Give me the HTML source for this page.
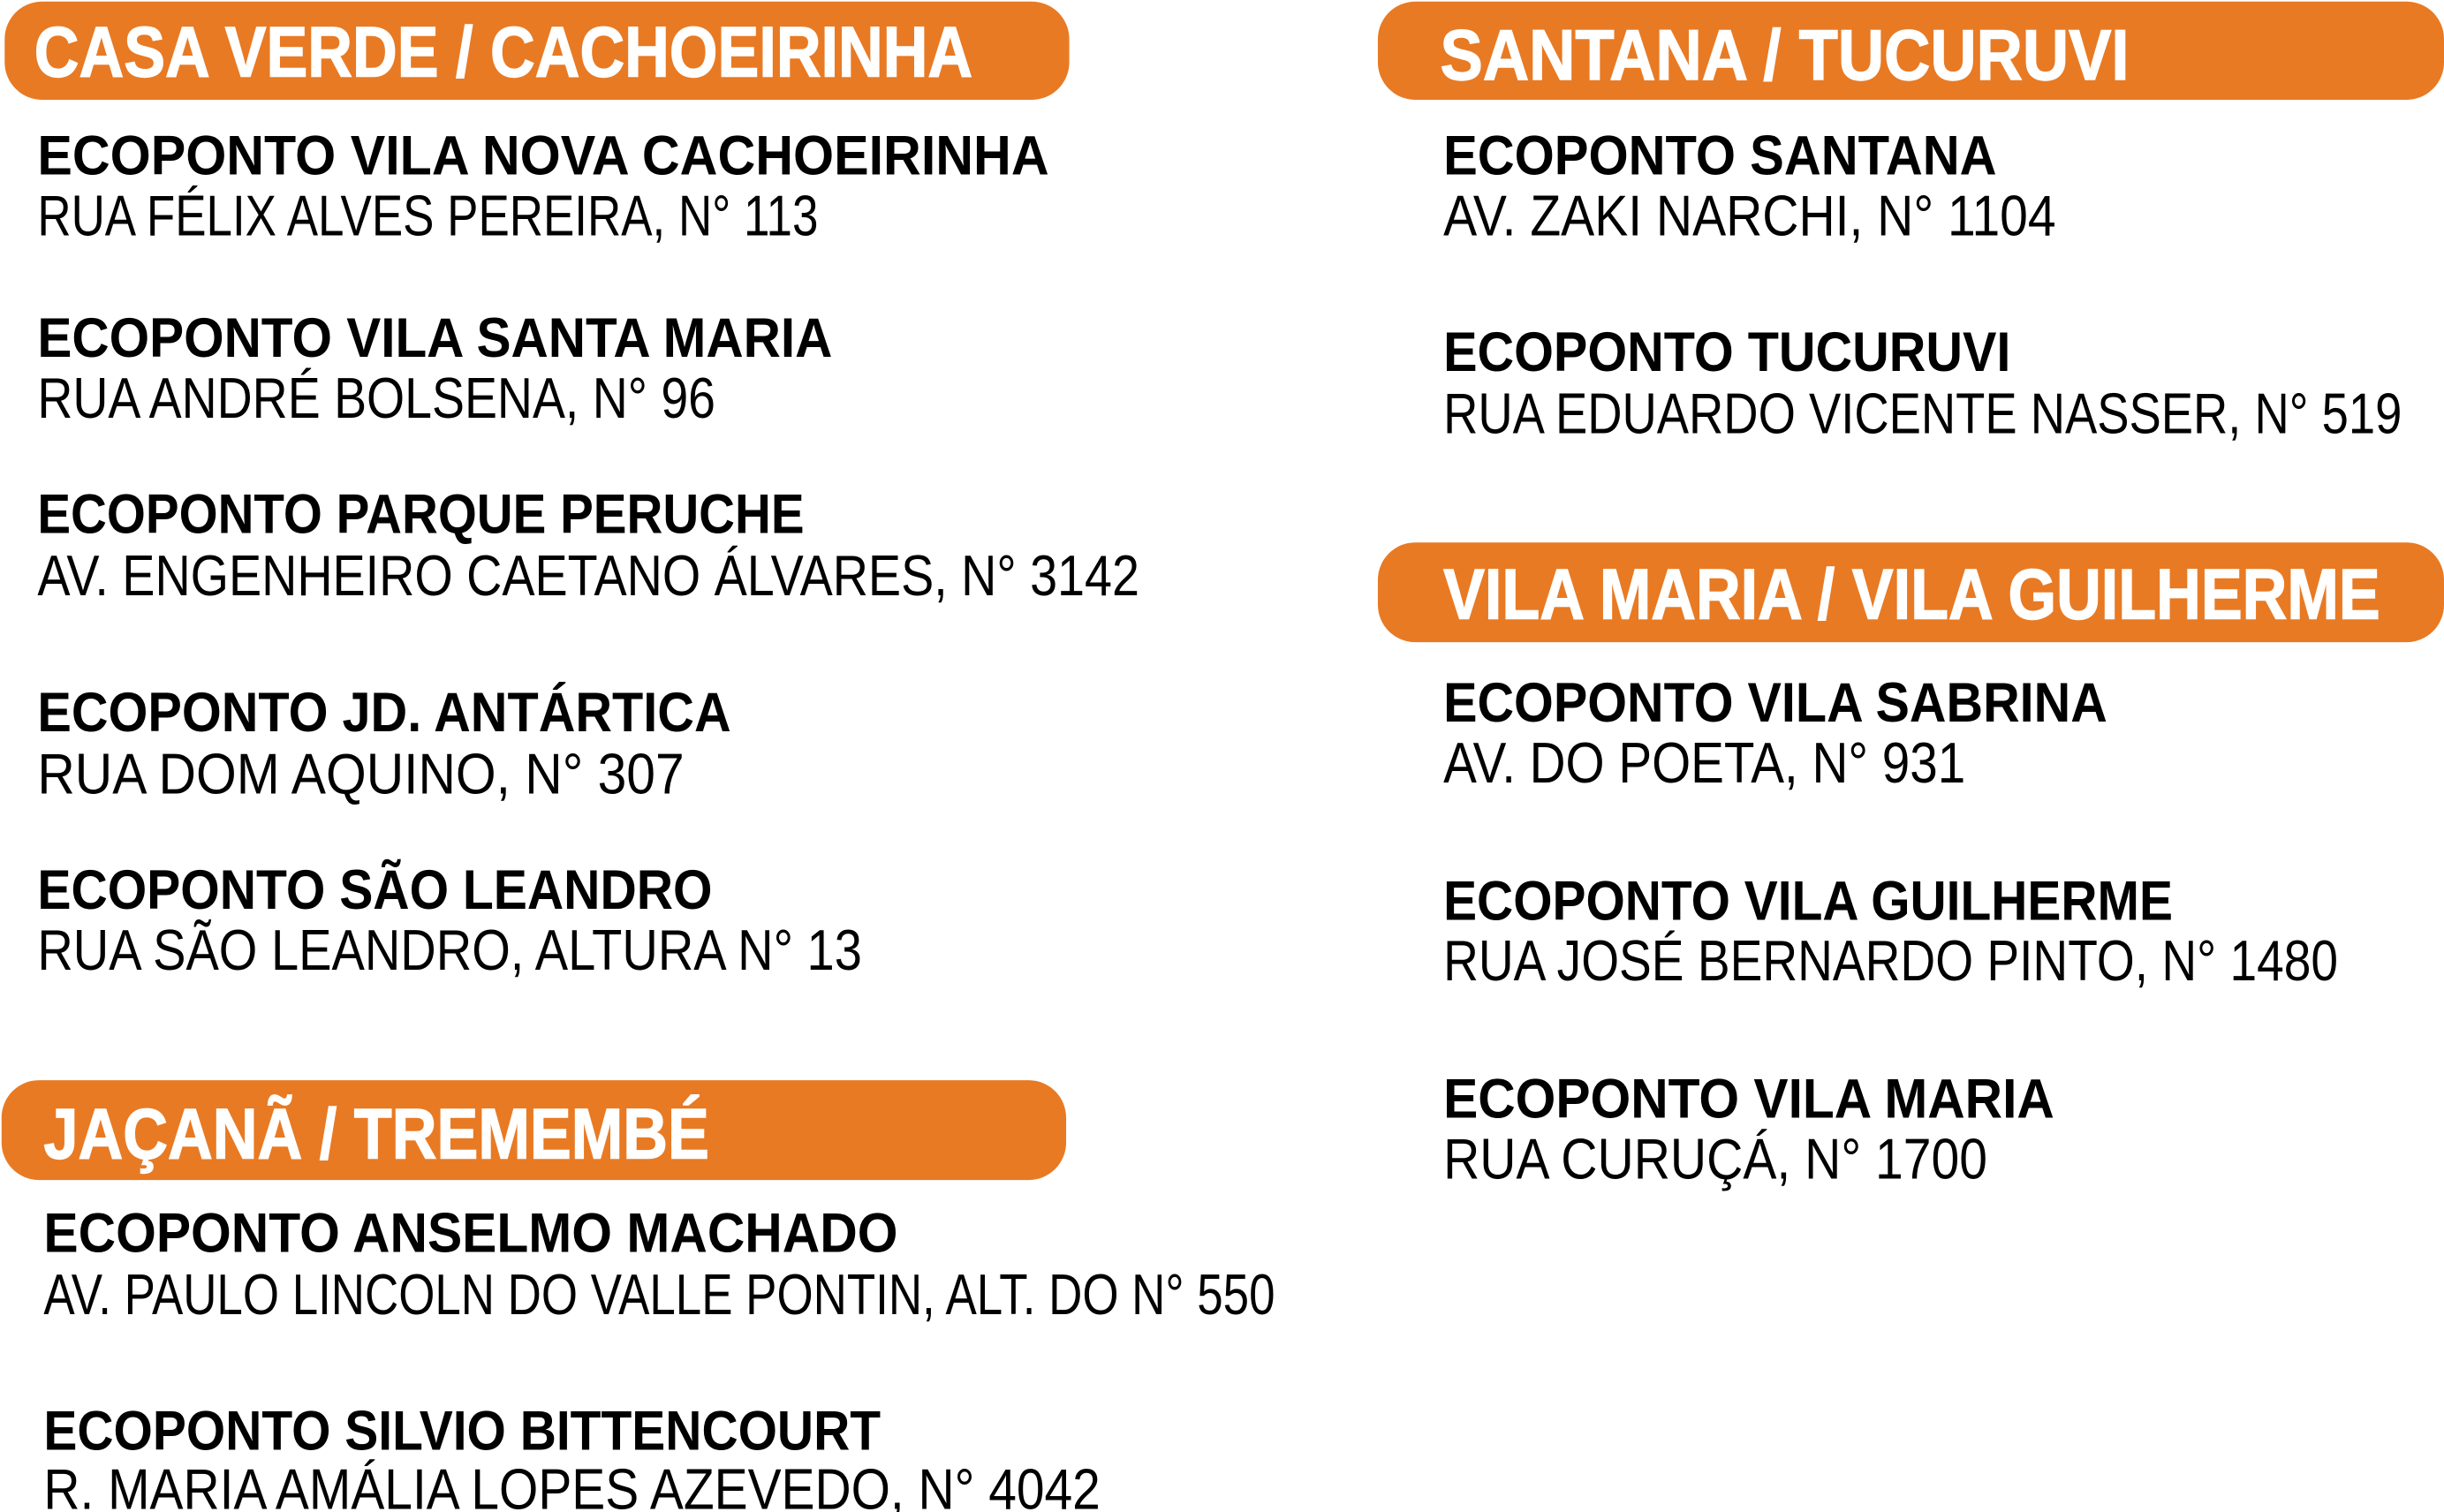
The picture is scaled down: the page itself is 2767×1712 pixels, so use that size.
<!DOCTYPE html>
<html><head><meta charset="utf-8"><style>
html,body{margin:0;padding:0;background:#fff;}
svg{display:block;}
.h{font-family:"Liberation Sans",sans-serif;font-weight:bold;font-size:46px;fill:#fff;stroke:#fff;stroke-width:0.8px;}
.t{font-family:"Liberation Sans",sans-serif;font-weight:bold;font-size:36px;fill:#000;}
.a{font-family:"Liberation Sans",sans-serif;font-weight:normal;font-size:37px;fill:#000;}
</style></head><body>
<svg width="2767" height="1712" viewBox="0 0 1568 970" preserveAspectRatio="none" xmlns="http://www.w3.org/2000/svg">
<g fill="#E87A24">
<rect x="3" y="1" width="683" height="63" rx="24"/>
<rect x="1" y="693" width="683" height="64" rx="24"/>
<rect x="884" y="1" width="684" height="63" rx="24"/>
<rect x="884" y="348" width="684" height="64" rx="24"/>
</g>
<text class="h" x="22" y="49" textLength="602" lengthAdjust="spacingAndGlyphs">CASA VERDE / CACHOEIRINHA</text>
<text class="h" x="28" y="743" textLength="427" lengthAdjust="spacingAndGlyphs">JAÇANÃ / TREMEMBÉ</text>
<text class="h" x="924" y="51" textLength="442" lengthAdjust="spacingAndGlyphs">SANTANA / TUCURUVI</text>
<text class="h" x="926" y="397" textLength="601" lengthAdjust="spacingAndGlyphs">VILA MARIA / VILA GUILHERME</text>

<text class="t" x="24" y="112" textLength="649" lengthAdjust="spacingAndGlyphs">ECOPONTO VILA NOVA CACHOEIRINHA</text>
<text class="a" x="24" y="151" textLength="501" lengthAdjust="spacingAndGlyphs">RUA FÉLIX ALVES PEREIRA, N° 113</text>
<text class="t" x="24" y="229" textLength="510" lengthAdjust="spacingAndGlyphs">ECOPONTO VILA SANTA MARIA</text>
<text class="a" x="24" y="268" textLength="435" lengthAdjust="spacingAndGlyphs">RUA ANDRÉ BOLSENA, N° 96</text>
<text class="t" x="24" y="342" textLength="492" lengthAdjust="spacingAndGlyphs">ECOPONTO PARQUE PERUCHE</text>
<text class="a" x="24" y="382" textLength="707" lengthAdjust="spacingAndGlyphs">AV. ENGENHEIRO CAETANO ÁLVARES, N° 3142</text>
<text class="t" x="24" y="469" textLength="445" lengthAdjust="spacingAndGlyphs">ECOPONTO JD. ANTÁRTICA</text>
<text class="a" x="24" y="509" textLength="415" lengthAdjust="spacingAndGlyphs">RUA DOM AQUINO, N° 307</text>
<text class="t" x="24" y="583" textLength="433" lengthAdjust="spacingAndGlyphs">ECOPONTO SÃO LEANDRO</text>
<text class="a" x="24" y="622" textLength="529" lengthAdjust="spacingAndGlyphs">RUA SÃO LEANDRO, ALTURA N° 13</text>

<text class="t" x="28" y="803" textLength="548" lengthAdjust="spacingAndGlyphs">ECOPONTO ANSELMO MACHADO</text>
<text class="a" x="28" y="843" textLength="790" lengthAdjust="spacingAndGlyphs">AV. PAULO LINCOLN DO VALLE PONTIN, ALT. DO N° 550</text>
<text class="t" x="28" y="930" textLength="537" lengthAdjust="spacingAndGlyphs">ECOPONTO SILVIO BITTENCOURT</text>
<text class="a" x="28" y="968" textLength="678" lengthAdjust="spacingAndGlyphs">R. MARIA AMÁLIA LOPES AZEVEDO, N° 4042</text>

<text class="t" x="926" y="112" textLength="355" lengthAdjust="spacingAndGlyphs">ECOPONTO SANTANA</text>
<text class="a" x="926" y="151" textLength="393" lengthAdjust="spacingAndGlyphs">AV. ZAKI NARCHI, N° 1104</text>
<text class="t" x="926" y="238" textLength="364" lengthAdjust="spacingAndGlyphs">ECOPONTO TUCURUVI</text>
<text class="a" x="926" y="278" textLength="615" lengthAdjust="spacingAndGlyphs">RUA EDUARDO VICENTE NASSER, N° 519</text>

<text class="t" x="926" y="463" textLength="426" lengthAdjust="spacingAndGlyphs">ECOPONTO VILA SABRINA</text>
<text class="a" x="926" y="502" textLength="335" lengthAdjust="spacingAndGlyphs">AV. DO POETA, N° 931</text>
<text class="t" x="926" y="590" textLength="468" lengthAdjust="spacingAndGlyphs">ECOPONTO VILA GUILHERME</text>
<text class="a" x="926" y="629" textLength="574" lengthAdjust="spacingAndGlyphs">RUA JOSÉ BERNARDO PINTO, N° 1480</text>
<text class="t" x="926" y="717" textLength="392" lengthAdjust="spacingAndGlyphs">ECOPONTO VILA MARIA</text>
<text class="a" x="926" y="756" textLength="349" lengthAdjust="spacingAndGlyphs">RUA CURUÇÁ, N° 1700</text>
</svg>
</body></html>
